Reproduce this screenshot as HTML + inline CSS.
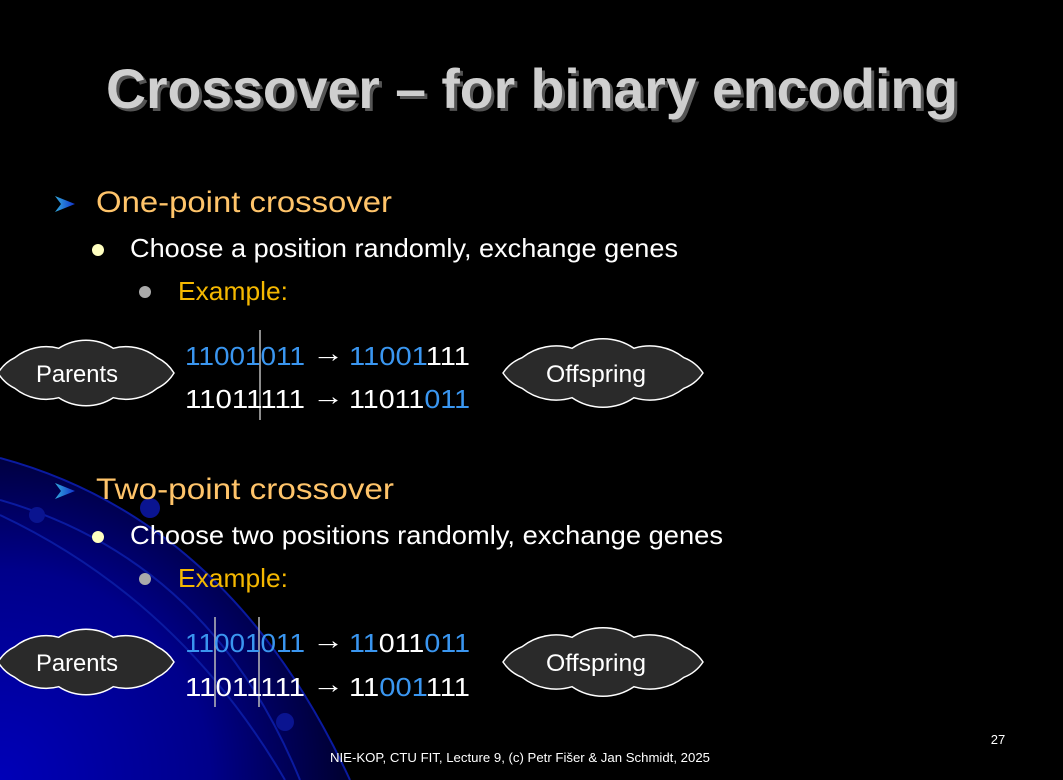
<!DOCTYPE html>
<html><head><meta charset="utf-8"><style>
html,body{margin:0;padding:0;background:#000;}
svg{display:block;}
text{font-family:"Liberation Sans",sans-serif;}
</style></head><body>
<svg width="1063" height="780" viewBox="0 0 1063 780" xmlns="http://www.w3.org/2000/svg">
<defs>
<radialGradient id="bg" cx="0" cy="780" r="420" gradientUnits="userSpaceOnUse">
<stop offset="0" stop-color="#0000b8"/>
<stop offset="0.5" stop-color="#00008a"/>
<stop offset="1" stop-color="#000000"/>
</radialGradient>
<linearGradient id="chev" x1="0" y1="0" x2="1" y2="0">
<stop offset="0" stop-color="#33aadd"/><stop offset="1" stop-color="#1133cc"/>
</linearGradient>
</defs>
<rect width="1063" height="780" fill="#000"/>
<path d="M0,458 Q230,520 350,780 L0,780 Z" fill="url(#bg)"/>
<g fill="none" stroke="#0a1aa0" stroke-width="2">
<path d="M0,458 Q230,520 350,780"/>
<path d="M0,500 Q210,560 300,780"/>
<path d="M0,515 Q180,600 285,780"/>
</g>
<g fill="#0a1490">
<circle cx="150" cy="508" r="10"/>
<circle cx="37" cy="515" r="8"/>
<circle cx="285" cy="722" r="9"/>
</g>

<text x="532" y="108" text-anchor="middle" font-size="56" font-weight="bold" fill="#555" textLength="852" lengthAdjust="spacingAndGlyphs" transform="translate(3,3)">Crossover – for binary encoding</text>
<text x="532" y="108" text-anchor="middle" font-size="56" font-weight="bold" fill="#cfcfcf" textLength="852" lengthAdjust="spacingAndGlyphs">Crossover – for binary encoding</text>

<!-- block 1 -->
<path d="M55,196 L75,204 L55,212 L61,204 Z" fill="url(#chev)"/>
<text x="96" y="212" font-size="30" fill="#ffc46a" textLength="296" lengthAdjust="spacingAndGlyphs">One-point crossover</text>
<circle cx="98" cy="250" r="6" fill="#ffffc0"/>
<text x="130" y="257" font-size="26" fill="#fff" textLength="548" lengthAdjust="spacingAndGlyphs">Choose a position randomly, exchange genes</text>
<circle cx="145" cy="292" r="6" fill="#aaa"/>
<text x="178" y="300" font-size="26" fill="#f5b800" textLength="110" lengthAdjust="spacingAndGlyphs">Example:</text>

<line x1="260" y1="330" x2="260" y2="420" stroke="#bbb" stroke-width="1.5"/>
<g font-size="26">
<text x="185" y="365" textLength="120" lengthAdjust="spacingAndGlyphs" fill="#3a96f0">11001011</text>
<text x="312" y="362" fill="#fff" textLength="32" lengthAdjust="spacingAndGlyphs">→</text>
<text x="349" y="365" textLength="121" lengthAdjust="spacingAndGlyphs"><tspan fill="#3a96f0">11001</tspan><tspan fill="#fff">111</tspan></text>
<text x="185" y="408" textLength="120" lengthAdjust="spacingAndGlyphs" fill="#fff">11011111</text>
<text x="312" y="405" fill="#fff" textLength="32" lengthAdjust="spacingAndGlyphs">→</text>
<text x="349" y="408" textLength="121" lengthAdjust="spacingAndGlyphs"><tspan fill="#fff">11011</tspan><tspan fill="#3a96f0">011</tspan></text>
</g>
<g fill="#2a2a2a" stroke="#fff" stroke-width="1.5">
<path d="M174,373 A40,40 0 0 1 157.2,388.3 A50,50 0 0 1 113.2,397.7 A50,50 0 0 1 58.8,397.7 A50,50 0 0 1 14.8,388.3 A40,40 0 0 1 -2,373 A40,40 0 0 1 14.8,357.7 A50,50 0 0 1 58.8,348.3 A50,50 0 0 1 113.2,348.3 A50,50 0 0 1 157.2,357.7 A40,40 0 0 1 174,373 Z"/>
<path d="M703,373 A40,40 0 0 1 683.9,388.3 A55,55 0 0 1 633.9,397.7 A55,55 0 0 1 572.1,397.7 A55,55 0 0 1 522.1,388.3 A40,40 0 0 1 503,373 A40,40 0 0 1 522.1,357.7 A55,55 0 0 1 572.1,348.3 A55,55 0 0 1 633.9,348.3 A55,55 0 0 1 683.9,357.7 A40,40 0 0 1 703,373 Z"/>
<g transform="translate(0,289)">
<path d="M174,373 A40,40 0 0 1 157.2,388.3 A50,50 0 0 1 113.2,397.7 A50,50 0 0 1 58.8,397.7 A50,50 0 0 1 14.8,388.3 A40,40 0 0 1 -2,373 A40,40 0 0 1 14.8,357.7 A50,50 0 0 1 58.8,348.3 A50,50 0 0 1 113.2,348.3 A50,50 0 0 1 157.2,357.7 A40,40 0 0 1 174,373 Z"/>
<path d="M703,373 A40,40 0 0 1 683.9,388.3 A55,55 0 0 1 633.9,397.7 A55,55 0 0 1 572.1,397.7 A55,55 0 0 1 522.1,388.3 A40,40 0 0 1 503,373 A40,40 0 0 1 522.1,357.7 A55,55 0 0 1 572.1,348.3 A55,55 0 0 1 633.9,348.3 A55,55 0 0 1 683.9,357.7 A40,40 0 0 1 703,373 Z"/>
</g>
</g>
<text x="77" y="382" text-anchor="middle" font-size="24" fill="#fff" textLength="82" lengthAdjust="spacingAndGlyphs">Parents</text>
<text x="596" y="382" text-anchor="middle" font-size="24" fill="#fff" textLength="100" lengthAdjust="spacingAndGlyphs">Offspring</text>

<!-- block 2 -->
<path d="M55,483 L75,491 L55,499 L61,491 Z" fill="url(#chev)"/>
<text x="96" y="499" font-size="30" fill="#ffc46a" textLength="298" lengthAdjust="spacingAndGlyphs">Two-point crossover</text>
<circle cx="98" cy="537" r="6" fill="#ffffc0"/>
<text x="130" y="544" font-size="26" fill="#fff" textLength="593" lengthAdjust="spacingAndGlyphs">Choose two positions randomly, exchange genes</text>
<circle cx="145" cy="579" r="6" fill="#aaa"/>
<text x="178" y="587" font-size="26" fill="#f5b800" textLength="110" lengthAdjust="spacingAndGlyphs">Example:</text>

<line x1="215" y1="617" x2="215" y2="707" stroke="#bbb" stroke-width="1.5"/>
<line x1="259" y1="617" x2="259" y2="707" stroke="#bbb" stroke-width="1.5"/>
<g font-size="26">
<text x="185" y="652" textLength="120" lengthAdjust="spacingAndGlyphs" fill="#3a96f0">11001011</text>
<text x="312" y="649" fill="#fff" textLength="32" lengthAdjust="spacingAndGlyphs">→</text>
<text x="349" y="652" textLength="121" lengthAdjust="spacingAndGlyphs"><tspan fill="#3a96f0">11</tspan><tspan fill="#fff">011</tspan><tspan fill="#3a96f0">011</tspan></text>
<text x="185" y="696" textLength="120" lengthAdjust="spacingAndGlyphs" fill="#fff">11011111</text>
<text x="312" y="693" fill="#fff" textLength="32" lengthAdjust="spacingAndGlyphs">→</text>
<text x="349" y="696" textLength="121" lengthAdjust="spacingAndGlyphs"><tspan fill="#fff">11</tspan><tspan fill="#3a96f0">001</tspan><tspan fill="#fff">111</tspan></text>
</g>
<text x="77" y="671" text-anchor="middle" font-size="24" fill="#fff" textLength="82" lengthAdjust="spacingAndGlyphs">Parents</text>
<text x="596" y="671" text-anchor="middle" font-size="24" fill="#fff" textLength="100" lengthAdjust="spacingAndGlyphs">Offspring</text>

<text x="998" y="744" text-anchor="middle" font-size="13" fill="#fff">27</text>
<text x="520" y="762" text-anchor="middle" font-size="13" fill="#fff" textLength="380" lengthAdjust="spacingAndGlyphs">NIE-KOP, CTU FIT, Lecture 9, (c) Petr Fišer &amp; Jan Schmidt, 2025</text>
</svg>
</body></html>
